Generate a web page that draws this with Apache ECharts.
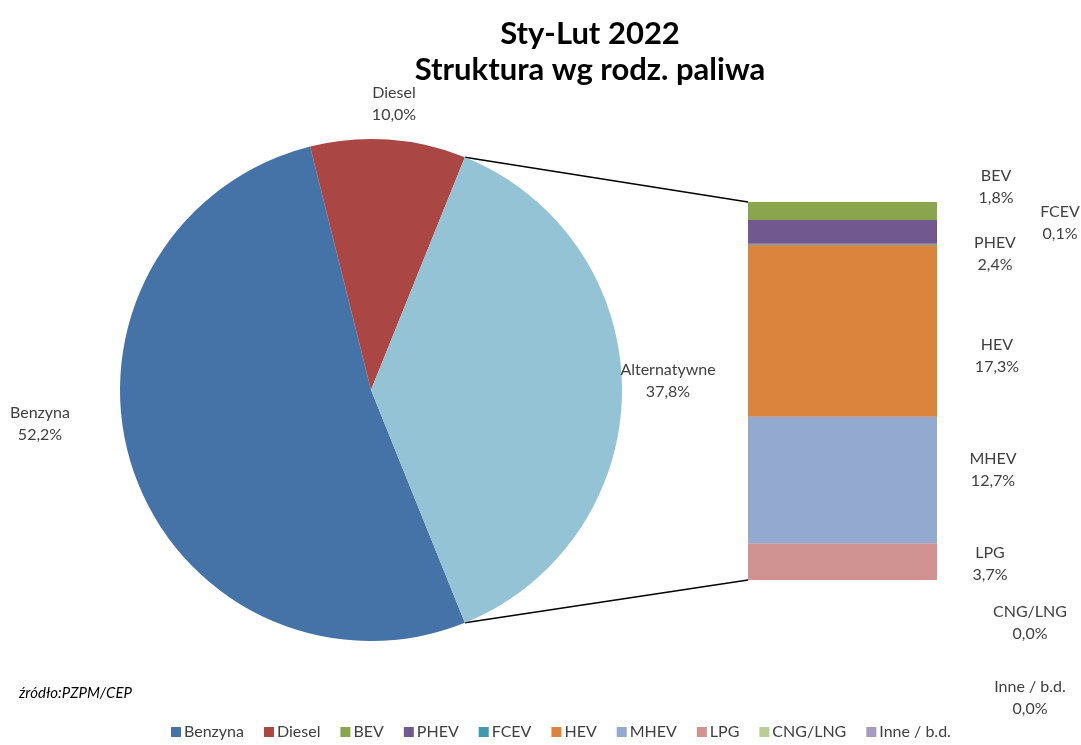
<!DOCTYPE html>
<html><head><meta charset="utf-8">
<script src="https://cdn.jsdelivr.net/npm/echarts@6/dist/echarts.min.js"></script>
<style>html,body{margin:0;padding:0;background:#fff}#c{width:1081px;height:745px}</style>
</head><body><div id="c"></div>
<script>
// ---- data ----
const titleLines = ['Sty-Lut 2022', 'Struktura wg rodz. paliwa'];
const pieNames = ['Benzyna', 'Diesel', 'Alternatywne'];
const pieValues = [52.2, 10.0, 37.8];
// bar (second plot) from top to bottom
const barNames = ['BEV', 'PHEV', 'FCEV', 'HEV', 'MHEV', 'LPG', 'CNG/LNG', 'Inne / b.d.'];
const barValues = [1.8, 2.4, 0.1, 17.3, 12.7, 3.7, 0.0, 0.0];
const legendNames = ['Benzyna', 'Diesel', 'BEV', 'PHEV', 'FCEV', 'HEV', 'MHEV', 'LPG', 'CNG/LNG', 'Inne / b.d.'];
const sourceText = 'źródło:PZPM/CEP';

// ---- styles ----
const colors = {
  'Benzyna': '#4572A7', 'Diesel': '#AA4643', 'Alternatywne': '#93C3D5',
  'BEV': '#89A54E', 'PHEV': '#71588F', 'FCEV': '#4198AF', 'HEV': '#DB843D',
  'MHEV': '#93A9CF', 'LPG': '#D19392', 'CNG/LNG': '#B9CD96', 'Inne / b.d.': '#A99BBD'
};
const FONT = 'Lato';
const LBL = 16;
const pieCenter = [371, 390];
const pieR = 251;
const pieLabelPos = { 'Benzyna': [40, 424], 'Diesel': [394, 104], 'Alternatywne': [668, 381] };
const barLabelPos = {
  'BEV': [996, 187], 'PHEV': [995, 254], 'FCEV': [1060, 223], 'HEV': [997, 356],
  'MHEV': [993, 470], 'LPG': [990, 564], 'CNG/LNG': [1030, 623], 'Inne / b.d.': [1030, 698]
};
const fmt = v => v.toFixed(1).replace('.', ',') + '%';

const chart = echarts.init(document.getElementById('c'));
const barTotal = barValues.reduce((a, b) => a + b, 0);
const altAngle = pieValues[2] / 100 * 360;

const barSeries = barNames.map((n, i) => ({
  type: 'bar', name: n, stack: 'alt', barWidth: '100%',
  data: [barValues[i]],
  itemStyle: { color: colors[n] },
  label: { show: true, formatter: n + '\n' + fmt(barValues[i]), color: '#404040',
    fontFamily: FONT, fontSize: LBL, lineHeight: 22, align: 'center' },
  labelLayout: () => ({ x: barLabelPos[n][0], y: barLabelPos[n][1], align: 'center', verticalAlign: 'middle' })
})).reverse(); // bottom-up stacking

const option = {
  animation: false,
  title: [{
    text: titleLines.join('\n'), left: 585, top: 11, textAlign: 'center',
    textStyle: { fontFamily: FONT, fontWeight: 'bold', fontSize: 31, lineHeight: 36, color: '#000', align: 'center' }
  }, {
    text: sourceText, left: 14, top: 681,
    textStyle: { fontFamily: FONT, fontStyle: 'italic', fontWeight: 'normal', fontSize: 15, color: '#000' }
  }],
  legend: {
    data: legendNames, bottom: 0, left: 166, itemWidth: 10, itemHeight: 10, itemGap: 20,
    icon: 'rect', textStyle: { fontFamily: FONT, fontSize: 16, color: '#404040', padding: [0, 0, 0, -2] }
  },
  grid: { left: 748, top: 202, width: 189, height: 378 },
  xAxis: { type: 'category', data: ['Alternatywne'], show: false },
  yAxis: { type: 'value', min: 0, max: barTotal, show: false },
  series: [{
    type: 'pie', name: 'main', center: pieCenter, radius: pieR,
    startAngle: altAngle / 2 + pieValues[0] / 100 * 360 + pieValues[1] / 100 * 360, clockwise: true,
    avoidLabelOverlap: false,
    data: pieNames.map((n, i) => ({ name: n, value: pieValues[i], itemStyle: { color: colors[n] } })),
    label: { show: true, formatter: p => p.name + '\n' + fmt(p.value), color: '#404040',
      fontFamily: FONT, fontSize: LBL, lineHeight: 22, align: 'center' },
    labelLine: { show: false },
    labelLayout: p => {
      const pos = pieLabelPos[pieNames[p.dataIndex]];
      return { x: pos[0], y: pos[1], align: 'center', verticalAlign: 'middle' };
    },
    emphasis: { disabled: true }
  }].concat(barSeries)
};
chart.setOption(option);

// connector lines from the Alternatywne slice edges to the bar corners
const a1 = altAngle / 2 * Math.PI / 180;
const pTop = [pieCenter[0] + pieR * Math.cos(a1), pieCenter[1] - pieR * Math.sin(a1)];
const pBot = [pieCenter[0] + pieR * Math.cos(a1), pieCenter[1] + pieR * Math.sin(a1)];
const barTopLeft = chart.convertToPixel({ gridIndex: 0 }, [0, barTotal]);
const barBotLeft = chart.convertToPixel({ gridIndex: 0 }, [0, 0]);
const gridLeft = option.grid.left;
chart.setOption({
  graphic: [
    { type: 'line', shape: { x1: pTop[0], y1: pTop[1], x2: gridLeft, y2: barTopLeft[1] }, style: { stroke: '#000', lineWidth: 1.5 } },
    { type: 'line', shape: { x1: pBot[0], y1: pBot[1], x2: gridLeft, y2: barBotLeft[1] }, style: { stroke: '#000', lineWidth: 1.5 } }
  ]
});
</script></body></html>
